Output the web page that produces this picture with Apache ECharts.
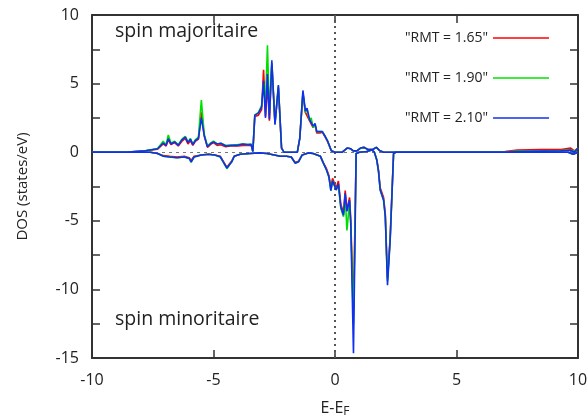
<!DOCTYPE html>
<html><head><meta charset="utf-8">
<script src="https://cdn.jsdelivr.net/npm/echarts@6/dist/echarts.min.js"></script>
<style>html,body{margin:0;padding:0;background:#fff}#c{width:587px;height:419px}</style>
</head><body><div id="c"></div>
<script>
// Energies (E - E_F, eV) for the spin-up (majority) curves
const energyUp = [-10,-8.5,-7.8,-7.3,-7.07,-6.95,-6.86,-6.75,-6.6,-6.45,-6.3,-6.16,-6.05,-5.95,-5.85,-5.75,-5.62,-5.5,-5.38,-5.25,-5.1,-5.0,-4.85,-4.7,-4.5,-4.3,-4.0,-3.8,-3.6,-3.45,-3.38,-3.3,-3.15,-3.02,-2.94,-2.86,-2.78,-2.7,-2.6,-2.47,-2.33,-2.2,-2.1,-1.55,-1.45,-1.32,-1.22,-1.15,-1.05,-0.98,-0.9,-0.82,-0.75,-0.62,-0.52,-0.42,-0.3,-0.15,0,0.3,0.5,0.65,0.75,0.9,1.05,1.2,1.35,1.55,1.7,1.85,2.0,7.0,7.5,8.5,9.3,9.7,9.85,10];
const up165 = [0,0.02,0.1,0.22,0.6,0.45,0.9,0.55,0.7,0.45,0.8,1.0,0.6,0.85,0.5,0.8,0.95,2.9,1.2,0.35,0.6,0.7,0.5,0.55,0.4,0.45,0.45,0.5,0.5,0.5,0.05,2.6,2.7,3.1,6.0,2.6,5.0,2.3,6.4,2.1,4.7,0.3,0,0,1.0,4.3,2.9,3.0,2.3,2.4,1.8,2.0,1.4,1.4,1.45,1.15,0.75,0.1,0,0,0.3,0.25,0.1,0.1,0.3,0.35,0.2,0.2,0.35,0.1,0,0.05,0.15,0.2,0.2,0.3,0.1,0.3];
const up190 = [0,0.02,0.1,0.27,0.8,0.55,1.25,0.65,0.8,0.55,0.95,1.15,0.75,1.0,0.6,0.9,1.1,3.8,1.3,0.45,0.7,0.8,0.6,0.65,0.5,0.5,0.55,0.6,0.55,0.6,0.05,2.7,2.9,3.4,5.0,3.5,7.8,2.8,6.5,2.1,4.8,0.3,0,0,1.0,4.4,2.9,3.1,2.3,2.5,1.8,2.0,1.5,1.5,1.5,1.2,0.8,0.1,0,0,0.3,0.25,0.1,0.1,0.3,0.35,0.2,0.2,0.35,0.1,0,0.02,0.08,0.1,0.12,0.18,0.05,0.3];
const up210 = [0,0.02,0.1,0.25,0.67,0.5,1.0,0.6,0.75,0.5,0.9,1.1,0.7,0.95,0.55,0.85,1.0,2.5,1.2,0.4,0.65,0.75,0.6,0.65,0.45,0.5,0.5,0.6,0.55,0.55,0.05,2.7,2.85,3.3,5.2,2.5,5.7,2.4,6.7,2.0,4.9,0.3,0,0,1.0,4.5,3.0,3.2,2.4,2.5,1.9,2.1,1.5,1.5,1.5,1.2,0.8,0.1,0,0,0.3,0.25,0.1,0.1,0.3,0.35,0.2,0.2,0.35,0.1,0,0,0.05,0.08,0.1,0.15,0.0,0.3];

// Energies for the spin-down (minority) curves (plotted negative)
const energyDn = [-10,-7.6,-7.3,-7.06,-6.8,-6.5,-6.2,-6.0,-5.92,-5.8,-5.5,-5.2,-4.95,-4.72,-4.6,-4.45,-4.38,-4.25,-4.15,-3.9,-3.5,-3.1,-2.8,-2.5,-2.25,-2.0,-1.8,-1.64,-1.5,-1.35,-1.1,-0.9,-0.6,-0.48,-0.35,-0.25,-0.17,-0.1,-0.03,0.05,0.14,0.24,0.35,0.42,0.49,0.6,0.65,0.76,0.87,1.0,1.3,1.52,1.62,1.72,1.79,1.86,2.0,2.07,2.16,2.27,2.41,2.5,9.6,9.8,10];
const dn165 = [0,0,-0.1,-0.25,-0.3,-0.35,-0.3,-0.4,-0.6,-0.3,-0.2,-0.15,-0.2,-0.3,-0.65,-1.1,-1.2,-0.65,-0.3,-0.15,-0.1,-0.05,-0.1,-0.2,-0.3,-0.3,-0.35,-0.75,-0.65,-0.2,-0.05,-0.1,-0.3,-0.75,-1.2,-1.7,-2.6,-1.9,-1.8,-2.6,-2.1,-3.8,-4.4,-2.8,-4.2,-3.3,-5.0,-11.5,-0.1,0,0.05,0.16,0,-0.55,-1.3,-2.6,-3.3,-4.5,-9.2,-6.2,-0.1,0,0,-0.15,0];
const dn190 = [0,0,-0.1,-0.3,-0.35,-0.4,-0.35,-0.45,-0.75,-0.35,-0.2,-0.15,-0.2,-0.35,-0.7,-1.2,-1.3,-0.7,-0.3,-0.15,-0.1,-0.05,-0.1,-0.2,-0.3,-0.3,-0.35,-0.8,-0.7,-0.2,-0.05,-0.1,-0.3,-0.8,-1.3,-1.8,-2.8,-2.1,-2.0,-2.75,-2.4,-4.1,-4.7,-3.1,-5.7,-3.6,-5.4,-12.5,-0.1,0,0.05,0.16,0,-0.57,-1.4,-2.75,-3.5,-4.7,-9.4,-6.4,-0.1,0,0,-0.15,0];
const dn210 = [0,0,-0.1,-0.3,-0.35,-0.4,-0.35,-0.45,-0.7,-0.35,-0.2,-0.15,-0.2,-0.33,-0.7,-1.15,-1.25,-0.7,-0.3,-0.15,-0.1,-0.05,-0.1,-0.2,-0.3,-0.3,-0.35,-0.8,-0.7,-0.2,-0.05,-0.1,-0.3,-0.8,-1.3,-1.8,-2.8,-2.1,-2.0,-2.75,-2.3,-4.0,-4.6,-3.0,-4.3,-3.5,-5.2,-14.66,-0.1,0,0.05,0.16,0,-0.57,-1.4,-2.75,-3.5,-4.7,-9.7,-6.4,-0.1,0,0,-0.15,0];

const seriesNames = ['"RMT = 1.65"', '"RMT = 1.90"', '"RMT = 2.10"'];
const seriesColors = ['#ff0000', '#00e000', '#1030f0'];
const xTicks = [-10, -5, 0, 5, 10];
const yTicks = [-15, -10, -5, 0, 5, 10];

const zip = (xs, ys) => xs.map((x, i) => [x, ys[i]]);
const upSets = [up165, up190, up210];
const dnSets = [dn165, dn190, dn210];

const FONT = 'Open Sans';
const series = [];
// reference lines
series.push({
  type: 'line', data: [], silent: true, symbol: 'none',
  markLine: {
    silent: true, symbol: 'none', animation: false,
    label: { show: false },
    data: [
      { xAxis: 0, lineStyle: { color: '#555', type: [2, 4], width: 2 } },
      { yAxis: 0, lineStyle: { color: '#777', type: [3, 4], width: 1 } }
    ]
  }
});
for (let k = 0; k < 3; k++) {
  series.push({
    name: seriesNames[k], type: 'line', showSymbol: false, symbol: 'none',
    data: zip(energyUp, upSets[k]), color: seriesColors[k],
    lineStyle: { width: 1.6, color: seriesColors[k] }, animation: false, z: 3 + k
  });
  series.push({
    name: seriesNames[k], type: 'line', showSymbol: false, symbol: 'none',
    data: zip(energyDn, dnSets[k]), color: seriesColors[k],
    lineStyle: { width: 1.6, color: seriesColors[k] }, animation: false, z: 3 + k
  });
}

const axisLine = { show: true, onZero: false, lineStyle: { color: '#333', width: 2 } };
const tick = { inside: true, length: 8, lineStyle: { color: '#333', width: 1.5 } };
const chart = echarts.init(document.getElementById('c'), null, { renderer: 'canvas' });
chart.setOption({
  backgroundColor: '#fff',
  animation: false,
  grid: { left: 92, right: 9, top: 15, bottom: 61, containLabel: false, outerBoundsMode: 'none' },
  legend: {
    data: seriesNames, orient: 'vertical', align: 'right', right: 33, top: 23,
    icon: 'rect', itemWidth: 56, itemHeight: 1.5, itemGap: 20,
    textStyle: { fontFamily: FONT, fontSize: 14, color: '#222', lineHeight: 20 },
    selectedMode: false
  },
  xAxis: [
    { type: 'value', min: xTicks[0], max: xTicks[xTicks.length - 1], interval: 5,
      position: 'bottom', axisLine, splitLine: { show: false }, axisTick: tick,
      axisLabel: { fontFamily: FONT, fontSize: 16, color: '#222', margin: 14 },
      name: '{a|E-E}{b|F}', nameLocation: 'middle', nameGap: 40,
      nameTextStyle: { rich: { a: { fontFamily: FONT, fontSize: 16, color: '#222' }, b: { fontFamily: FONT, fontSize: 12, color: '#222', verticalAlign: 'bottom', padding: [8, 0, 0, 0] } } }
    },
    { type: 'value', min: -10, max: 10, interval: 5, position: 'top', axisLine,
      splitLine: { show: false }, axisLabel: { show: false }, axisTick: tick }
  ],
  yAxis: [
    { type: 'value', min: yTicks[0], max: yTicks[yTicks.length - 1], interval: 2.5,
      position: 'left', axisLine, splitLine: { show: false }, axisTick: tick,
      axisLabel: { fontFamily: FONT, fontSize: 16, color: '#222', margin: 13,
        formatter: v => (yTicks.includes(v) ? String(v) : '') },
      name: 'DOS (states/eV)', nameLocation: 'middle', nameGap: 62,
      nameTextStyle: { fontFamily: FONT, fontSize: 15, color: '#222' }
    },
    { type: 'value', min: -15, max: 10, interval: 2.5, position: 'right', axisLine,
      splitLine: { show: false }, axisLabel: { show: false }, axisTick: tick }
  ],
  graphic: [
    { type: 'text', left: 115, top: 21, style: { text: 'spin majoritaire', fontFamily: FONT, fontSize: 19.5, fill: '#222' } },
    { type: 'text', left: 115, top: 309, style: { text: 'spin minoritaire', fontFamily: FONT, fontSize: 19.5, fill: '#222' } }
  ],
  series
});
</script>
</body></html>
